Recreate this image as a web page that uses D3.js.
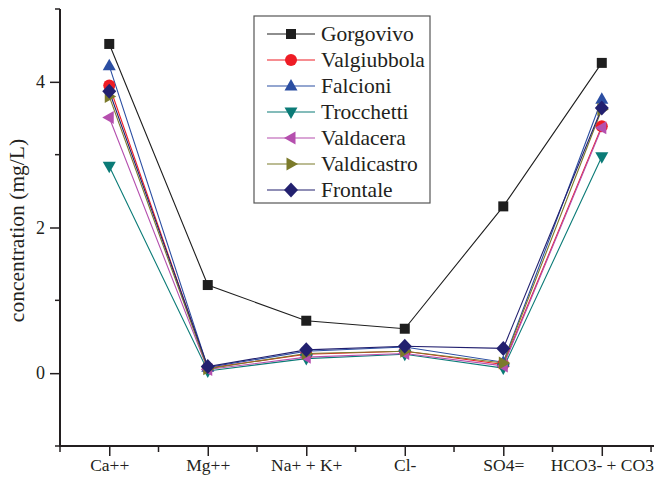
<!DOCTYPE html>
<html>
<head>
<meta charset="utf-8">
<script src="https://cdn.jsdelivr.net/npm/d3@7"></script>
<style>
  body { margin: 0; background: #fff; }
  svg text { font-family: "Liberation Serif", "Times New Roman", Times, "Nimbus Roman", "DejaVu Serif", serif !important; fill: #231f20; }
</style>
</head>
<body>
<svg id="chart" width="654" height="477"></svg>
<script>
////////////////////////////////////////////////////////////////////////////////
// Data
var categories = ["Ca++", "Mg++", "Na+ + K+", "Cl-", "SO4=", "HCO3- + CO3"]
var sites = ["Gorgovivo", "Valgiubbola", "Falcioni", "Trocchetti", "Valdacera", "Valdicastro", "Frontale"]

var gorgovivo   = [4.52, 1.21, 0.72, 0.61, 2.29, 4.26]
var valgiubbola = [3.95, 0.07, 0.26, 0.30, 0.12, 3.39]
var falcioni    = [4.22, 0.08, 0.30, 0.36, 0.15, 3.76]
var trocchetti  = [2.84, 0.03, 0.20, 0.26, 0.07, 2.97]
var valdacera   = [3.51, 0.05, 0.22, 0.27, 0.10, 3.37]
var valdicastro = [3.80, 0.06, 0.27, 0.30, 0.14, 3.62]
var frontale    = [3.87, 0.09, 0.32, 0.37, 0.34, 3.64]

var yTicks = [0, 2, 4]
var yMinorTicks = [-1, 1, 3, 5]

////////////////////////////////////////////////////////////////////////////////
// Styles
var serif = "'Liberation Serif', 'Times New Roman', Times, serif"
var colors = ["#1e1e1e", "#ee1c25", "#2b4ea2", "#0b7b77", "#b54fae", "#7b7a2a", "#22206f"]
var symbols = ["square", "circle", "up", "down", "left", "right", "diamond"]

var series = sites.map(function(name, i) {
  return { name: name, values: [gorgovivo, valgiubbola, falcioni, trocchetti, valdacera, valdicastro, frontale][i],
           color: colors[i], symbol: symbols[i] }
})

var mLeft = 60, mRight = 654, mTop = 9, mBottom = 446

var svg = d3.select("#chart").attr("font-family", serif)

var x = d3.scaleLinear().domain([-0.5, 5.53]).range([mLeft, mRight])
var y = d3.scaleLinear().domain([-1, 5]).range([mBottom, mTop])

function markerPath(sym) {
  switch (sym) {
    case "square": return "M-5,-5H5V5H-5Z"
    case "up": return "M0,-7L6.5,4.5H-6.5Z"
    case "down": return "M0,7L6.5,-4.5H-6.5Z"
    case "left": return "M-7,0L4.5,-6.5V6.5Z"
    case "right": return "M7,0L-4.5,-6.5V6.5Z"
    case "diamond": return "M0,-7.5L7,0L0,7.5L-7,0Z"
  }
  return null
}

function drawMarker(g, sym, color) {
  if (sym == "circle") g.append("circle").attr("r", 6).attr("fill", color)
  else g.append("path").attr("d", markerPath(sym)).attr("fill", color)
}

// axes
var yAxis = svg.append("g").attr("transform", "translate(" + mLeft + ",0)")
  .call(d3.axisLeft(y).tickValues(yTicks).tickSize(10).tickPadding(5).tickFormat(d3.format("d")))
  .attr("font-family", serif)
yAxis.select(".domain").remove()
yAxis.selectAll("line").attr("stroke", "#231f20").attr("stroke-width", 1.5)
yAxis.selectAll("text").attr("font-size", 18)
yAxis.selectAll(".minor").data(yMinorTicks).join("line")
  .attr("x1", -5).attr("x2", 0)
  .attr("y1", d => y(d)).attr("y2", d => y(d))
  .attr("stroke", "#231f20").attr("stroke-width", 1.5)

var xAxis = svg.append("g").attr("transform", "translate(0," + mBottom + ")")
  .call(d3.axisBottom(x).tickValues(d3.range(categories.length)).tickSize(10).tickPadding(3)
    .tickFormat(i => categories[i]))
  .attr("font-family", serif)
xAxis.select(".domain").remove()
xAxis.selectAll("line").attr("stroke", "#231f20").attr("stroke-width", 1.5)
xAxis.selectAll("text").attr("font-size", 17.5)
xAxis.selectAll(".minor").data(d3.range(-0.5, 5.6, 1)).join("line")
  .attr("x1", d => x(d)).attr("x2", d => x(d))
  .attr("y1", 0).attr("y2", 6)
  .attr("stroke", "#231f20").attr("stroke-width", 1.5)

svg.append("path")
  .attr("d", "M" + mLeft + "," + mTop + "V" + mBottom + "H" + mRight)
  .attr("fill", "none").attr("stroke", "#231f20").attr("stroke-width", 2)

svg.append("text")
  .attr("transform", "translate(24," + ((mTop + mBottom) / 2 + 3) + ") rotate(-90)")
  .attr("text-anchor", "middle").attr("font-size", 21.5)
  .text("concentration (mg/L)")

// lines + markers
var line = d3.line().x((d, i) => x(i)).y(d => y(d))

series.forEach(function(s) {
  svg.append("path").datum(s.values)
    .attr("d", line).attr("fill", "none")
    .attr("stroke", s.color).attr("stroke-width", 1.1)
})
series.forEach(function(s) {
  s.values.forEach(function(v, i) {
    var g = svg.append("g").attr("transform", "translate(" + x(i) + "," + y(v) + ")")
    drawMarker(g, s.symbol, s.color)
  })
})

// legend
var legend = svg.append("g")
legend.append("rect")
  .attr("x", 254).attr("y", 16).attr("width", 176).attr("height", 187)
  .attr("fill", "#fff").attr("stroke", "#555").attr("stroke-width", 1.2)

series.forEach(function(s, i) {
  var ly = 34 + i * 26
  var g = legend.append("g").attr("transform", "translate(0," + ly + ")")
  g.append("line").attr("x1", 267).attr("x2", 315).attr("y1", 0).attr("y2", 0)
    .attr("stroke", s.color).attr("stroke-width", 1.1)
  var m = g.append("g").attr("transform", "translate(291,0)")
  drawMarker(m, s.symbol, s.color)
  g.append("text").attr("x", 321).attr("y", 7).attr("font-size", 21.5).text(s.name)
})
</script>
</body>
</html>
